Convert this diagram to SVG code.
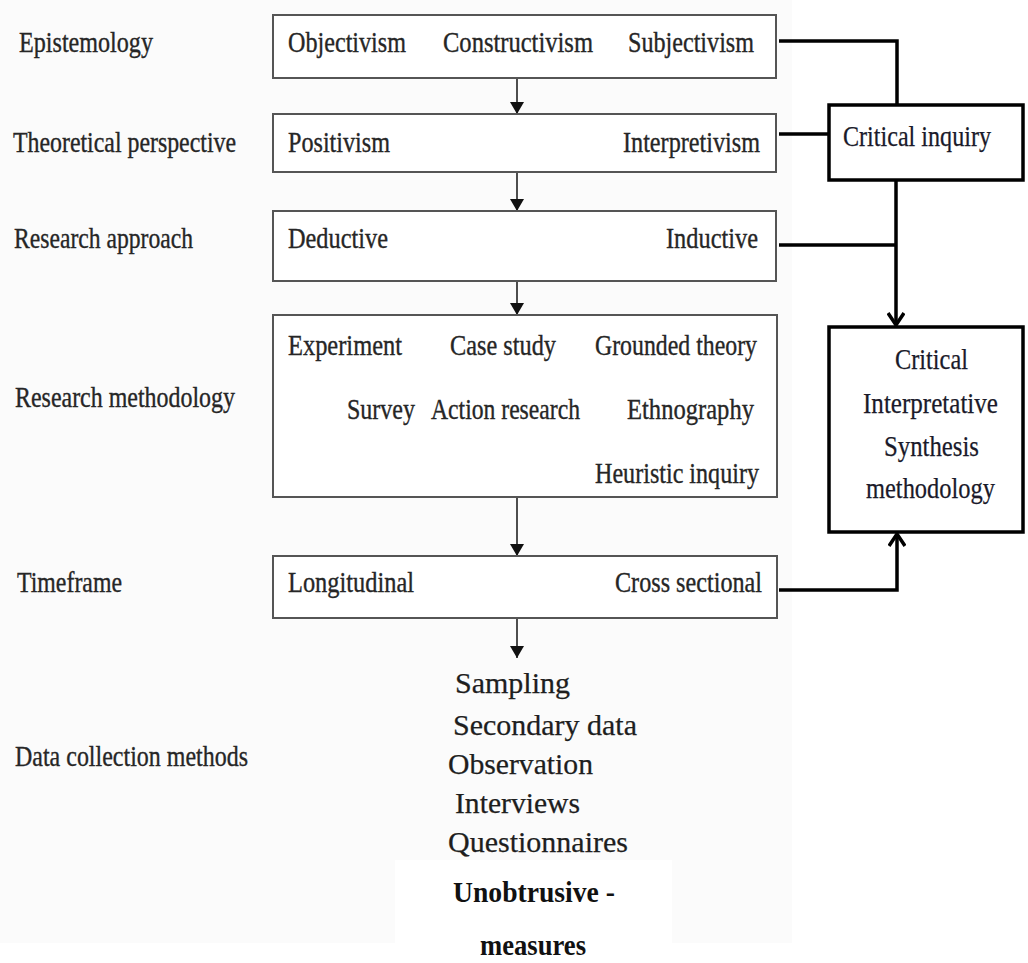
<svg xmlns="http://www.w3.org/2000/svg" width="1028" height="963" viewBox="0 0 1028 963">
  <style>
    .lbl { font-family: "Liberation Serif", "Times New Roman", serif; font-size: 29px; fill: #262626; stroke: #262626; stroke-width: 0.35; }
    .dc { font-family: "Liberation Serif", "Times New Roman", serif; font-size: 30px; fill: #1e1e1e; stroke: #1e1e1e; stroke-width: 0.25; }
    .dcb { font-family: "Liberation Serif", "Times New Roman", serif; font-size: 29px; font-weight: bold; fill: #111; }
    .crit { font-family: "Liberation Serif", "Times New Roman", serif; font-size: 30px; fill: #1a1a2a; stroke: #1a1a2a; stroke-width: 0.25; }
    .box { fill: #ffffff; stroke: #555; stroke-width: 2; }
    .cbox { fill: #ffffff; stroke: #000; stroke-width: 3.5; }
    .flow { stroke: #222; stroke-width: 1.6; fill: none; }
    .thick { stroke: #000; stroke-width: 3.5; fill: none; }
  </style>
  <defs>
    <marker id="tri" viewBox="0 0 12 14" refX="12" refY="7" markerWidth="12" markerHeight="14" markerUnits="userSpaceOnUse" orient="auto">
      <path d="M0,0 L12,7 L0,14 Z" fill="#111"/>
    </marker>
    <marker id="chev" viewBox="0 0 14 18" refX="13" refY="9" markerWidth="14" markerHeight="18" markerUnits="userSpaceOnUse" orient="auto">
      <path d="M1,1 L13,9 L1,17" fill="none" stroke="#000" stroke-width="3.5"/>
    </marker>
  </defs>

  <!-- page background -->
  <rect x="0" y="0" width="1028" height="963" fill="#ffffff"/>
  <rect x="0" y="0" width="792" height="943" fill="#fbfbfb"/>
  <rect x="395" y="860" width="277" height="83" fill="#ffffff"/>

  <!-- row labels -->
  <g id="row-labels">
    <text class="lbl" x="19" y="52" textLength="134" lengthAdjust="spacingAndGlyphs">Epistemology</text>
    <text class="lbl" x="13" y="152" textLength="223" lengthAdjust="spacingAndGlyphs">Theoretical perspective</text>
    <text class="lbl" x="14" y="248" textLength="179" lengthAdjust="spacingAndGlyphs">Research approach</text>
    <text class="lbl" x="15" y="407" textLength="220" lengthAdjust="spacingAndGlyphs">Research methodology</text>
    <text class="lbl" x="17" y="592" textLength="105" lengthAdjust="spacingAndGlyphs">Timeframe</text>
    <text class="lbl" x="15" y="766" textLength="233" lengthAdjust="spacingAndGlyphs">Data collection methods</text>
  </g>

  <!-- connectors -->
  <g id="connectors">
    <line class="flow" x1="517" y1="78" x2="517" y2="114" marker-end="url(#tri)"/>
    <line class="flow" x1="517" y1="172" x2="517" y2="211" marker-end="url(#tri)"/>
    <line class="flow" x1="517" y1="281" x2="517" y2="315" marker-end="url(#tri)"/>
    <line class="flow" x1="517" y1="497" x2="517" y2="556" marker-end="url(#tri)"/>
    <line class="flow" x1="517" y1="618" x2="517" y2="658" marker-end="url(#tri)"/>

    <polyline class="thick" points="779,41 897,41 897,105"/>
    <line class="thick" x1="779" y1="134" x2="829" y2="134"/>
    <line class="thick" x1="779" y1="245" x2="896" y2="245"/>
    <line class="thick" x1="896" y1="180" x2="896" y2="325" marker-end="url(#chev)"/>
    <polyline class="thick" points="779,590 897,590 897,534" marker-end="url(#chev)"/>
  </g>

  <g id="epistemology">
    <rect class="box" x="273" y="15" width="503" height="63"/>
    <text class="lbl" x="288" y="52" textLength="118" lengthAdjust="spacingAndGlyphs">Objectivism</text>
    <text class="lbl" x="443" y="52" textLength="150" lengthAdjust="spacingAndGlyphs">Constructivism</text>
    <text class="lbl" x="628" y="52" textLength="126" lengthAdjust="spacingAndGlyphs">Subjectivism</text>
  </g>

  <g id="theoretical-perspective">
    <rect class="box" x="273" y="114" width="503" height="58"/>
    <text class="lbl" x="288" y="152" textLength="102" lengthAdjust="spacingAndGlyphs">Positivism</text>
    <text class="lbl" x="623" y="152" textLength="137" lengthAdjust="spacingAndGlyphs">Interpretivism</text>
  </g>

  <g id="research-approach">
    <rect class="box" x="273" y="211" width="503" height="70"/>
    <text class="lbl" x="288" y="248" textLength="100" lengthAdjust="spacingAndGlyphs">Deductive</text>
    <text class="lbl" x="666" y="248" textLength="92" lengthAdjust="spacingAndGlyphs">Inductive</text>
  </g>

  <g id="research-methodology">
    <rect class="box" x="273" y="315" width="504" height="182"/>
    <text class="lbl" x="288" y="355" textLength="114" lengthAdjust="spacingAndGlyphs">Experiment</text>
    <text class="lbl" x="450" y="355" textLength="106" lengthAdjust="spacingAndGlyphs">Case study</text>
    <text class="lbl" x="595" y="355" textLength="162" lengthAdjust="spacingAndGlyphs">Grounded theory</text>
    <text class="lbl" x="347" y="419" textLength="68" lengthAdjust="spacingAndGlyphs">Survey</text>
    <text class="lbl" x="431" y="419" textLength="149" lengthAdjust="spacingAndGlyphs">Action research</text>
    <text class="lbl" x="627" y="419" textLength="127" lengthAdjust="spacingAndGlyphs">Ethnography</text>
    <text class="lbl" x="595" y="483" textLength="164" lengthAdjust="spacingAndGlyphs">Heuristic inquiry</text>
  </g>

  <g id="timeframe">
    <rect class="box" x="273" y="556" width="504" height="62"/>
    <text class="lbl" x="288" y="592" textLength="126" lengthAdjust="spacingAndGlyphs">Longitudinal</text>
    <text class="lbl" x="615" y="592" textLength="147" lengthAdjust="spacingAndGlyphs">Cross sectional</text>
  </g>

  <g id="data-collection">
    <text class="dc" x="455" y="693" textLength="115" lengthAdjust="spacingAndGlyphs">Sampling</text>
    <text class="dc" x="453" y="735" textLength="184" lengthAdjust="spacingAndGlyphs">Secondary data</text>
    <text class="dc" x="448" y="774" textLength="145" lengthAdjust="spacingAndGlyphs">Observation</text>
    <text class="dc" x="455" y="813" textLength="125" lengthAdjust="spacingAndGlyphs">Interviews</text>
    <text class="dc" x="448" y="852" textLength="180" lengthAdjust="spacingAndGlyphs">Questionnaires</text>
    <text class="dcb" x="453" y="902" textLength="162" lengthAdjust="spacingAndGlyphs">Unobtrusive -</text>
    <text class="dcb" x="480" y="955" textLength="106" lengthAdjust="spacingAndGlyphs">measures</text>
  </g>

  <g id="critical-inquiry">
    <rect class="cbox" x="829" y="105" width="194" height="75"/>
    <text class="crit" x="843" y="146" textLength="148" lengthAdjust="spacingAndGlyphs">Critical inquiry</text>
  </g>

  <g id="cis-methodology">
    <rect class="cbox" x="829" y="327" width="194" height="205"/>
    <text class="crit" x="895" y="369" textLength="73" lengthAdjust="spacingAndGlyphs">Critical</text>
    <text class="crit" x="863" y="413" textLength="135" lengthAdjust="spacingAndGlyphs">Interpretative</text>
    <text class="crit" x="884" y="456" textLength="95" lengthAdjust="spacingAndGlyphs">Synthesis</text>
    <text class="crit" x="866" y="498" textLength="129" lengthAdjust="spacingAndGlyphs">methodology</text>
  </g>
</svg>
